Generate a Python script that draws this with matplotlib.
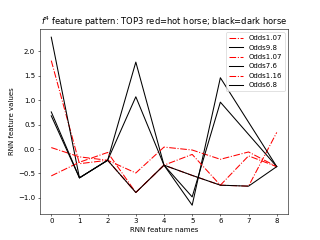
import matplotlib
matplotlib.use('Agg')
import matplotlib.pyplot as plt

# RNN feature index 0..8
x = list(range(9))

# red = hot horse, black = dark horse
odds_a = [1.81, -0.30, -0.23, -0.89, -0.33, -0.54, -0.74, -0.76, 0.34]   # Odds1.07
odds_98 = [2.29, -0.59, -0.23, 1.78, -0.33, -1.15, 1.46, 0.55, -0.36]   # Odds9.8
odds_b = [0.03, -0.16, -0.23, -0.49, 0.04, -0.02, -0.21, -0.06, -0.36]  # Odds1.07
odds_76 = [0.76, -0.59, -0.23, 1.07, -0.33, -0.98, 0.96, 0.30, -0.36]   # Odds7.6
odds_116 = [-0.55, -0.27, -0.07, -0.89, -0.33, -0.11, -0.74, -0.14, -0.36]  # Odds1.16
odds_68 = [0.68, -0.59, -0.23, -0.89, -0.33, -0.54, -0.74, -0.76, -0.36]  # Odds6.8

fig = plt.figure(figsize=(6.4, 4.8), dpi=50)
plt.plot(x, odds_a, 'r-.', label='Odds1.07')
plt.plot(x, odds_98, 'k-', label='Odds9.8')
plt.plot(x, odds_b, 'r-.', label='Odds1.07')
plt.plot(x, odds_76, 'k-', label='Odds7.6')
plt.plot(x, odds_116, 'r-.', label='Odds1.16')
plt.plot(x, odds_68, 'k-', label='Odds6.8')
plt.title('$f^4$ feature pattern: TOP3 red=hot horse; black=dark horse')
plt.xlabel('RNN feature names')
plt.ylabel('RNN feature values')
plt.legend(loc='upper right')
plt.savefig('out.png', dpi=50)
